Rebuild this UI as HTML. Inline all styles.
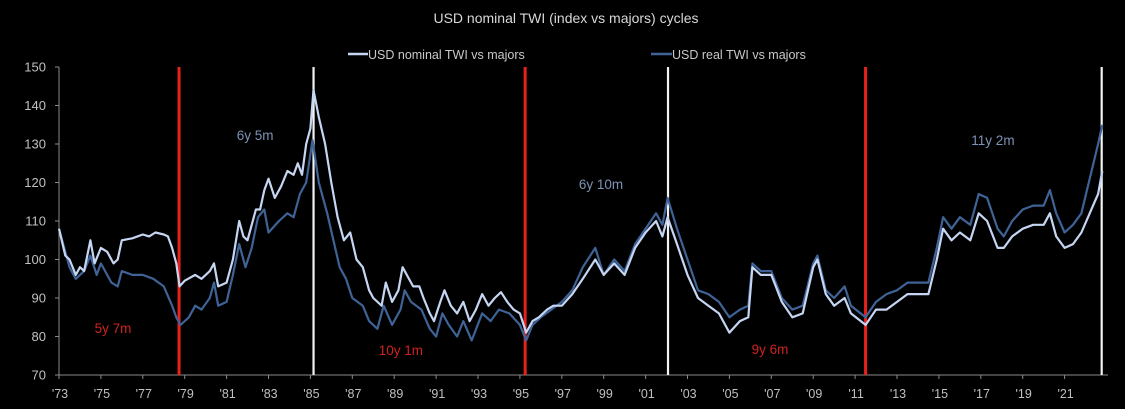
<!DOCTYPE html>
<html><head><meta charset="utf-8"><style>
html,body{margin:0;padding:0;background:#000;}
svg{display:block;font-family:"Liberation Sans",sans-serif;}
</style></head><body>
<svg id="chart" width="1125" height="409" viewBox="0 0 1125 409">
<rect width="1125" height="409" fill="#000"/>
<text x="566" y="23" text-anchor="middle" fill="#d8d8d8" font-size="14">USD nominal TWI (index vs majors) cycles</text>
<g>
<g><line x1="348" y1="54" x2="368" y2="54" stroke="#c6d6f2" stroke-width="2.5"/><text x="368" y="59" fill="#c8c8c8" font-size="12.5">USD nominal TWI vs majors</text></g>
<g><line x1="651" y1="54" x2="672" y2="54" stroke="#3f6396" stroke-width="2.5"/><text x="672" y="59" fill="#c8c8c8" font-size="12.5">USD real TWI vs majors</text></g>
</g>
<g id="axes"></g>
<g id="vlines"></g>
<g id="series"></g>
<g id="notes"></g>
</svg>
<script>
const yTicks=[70,80,90,100,110,120,130,140,150];
const xTickYears=[1973,1975,1977,1979,1981,1983,1985,1987,1989,1991,1993,1995,1997,1999,2001,2003,2005,2007,2009,2011,2013,2015,2017,2019,2021];
const nominalDates=[1973.0,1973.3,1973.5,1973.8,1974.0,1974.2,1974.5,1974.7,1975.0,1975.3,1975.6,1975.8,1976.0,1976.5,1977.0,1977.3,1977.6,1978.0,1978.2,1978.4,1978.6,1978.75,1979.0,1979.5,1979.8,1980.2,1980.4,1980.6,1981.0,1981.3,1981.6,1981.8,1982.0,1982.4,1982.6,1982.8,1983.0,1983.3,1983.6,1983.9,1984.2,1984.4,1984.6,1984.8,1985.0,1985.15,1985.4,1985.7,1986.0,1986.3,1986.6,1986.9,1987.2,1987.5,1987.8,1988.0,1988.4,1988.6,1988.9,1989.2,1989.4,1989.6,1989.9,1990.2,1990.4,1990.7,1990.9,1991.2,1991.4,1991.7,1992.0,1992.3,1992.6,1992.9,1993.2,1993.5,1993.8,1994.1,1994.4,1994.7,1995.0,1995.3,1995.6,1995.9,1996.3,1996.6,1997.0,1997.5,1998.0,1998.6,1999.0,1999.5,2000.0,2000.5,2001.0,2001.5,2001.8,2002.05,2002.5,2003.0,2003.5,2004.0,2004.5,2005.0,2005.5,2005.9,2006.1,2006.5,2007.0,2007.5,2008.0,2008.5,2009.0,2009.2,2009.6,2010.0,2010.5,2010.8,2011.5,2012.0,2012.5,2013.0,2013.5,2014.0,2014.5,2014.9,2015.2,2015.6,2016.0,2016.5,2016.9,2017.3,2017.8,2018.1,2018.5,2019.0,2019.5,2020.0,2020.3,2020.6,2021.0,2021.4,2021.8,2022.2,2022.6,2022.8];
const nominalValues=[108,101,100,96,98,97,105,99,103,102,99,100,105,105.5,106.5,106,107,106.5,106,103,99,93,94.5,96,95,97,99,93,94,100,110,106,105,113,113,118,121,116,119,123,122,125,122,130,134,144,137,130,120,111,105,107,100,98,92,90,88,94,89,92,98,96,93,93,90,86,84,89,92,88,86,89,84,87,91,88,90,91.5,89,87,86,81,84,85,87,88,88,91,95,100,96,99,96,103,107,110,106,111,104,96,90,88,86,81,84,85,98,96,96,89,85,86,98,100,91,88,90,86,83,87,87,89,91,91,91,100,108,105,107,105,112,110,103,103,106,108,109,109,112,106,103,104,107,112,117,123];
const realDates=[1973.0,1973.5,1973.8,1974.2,1974.5,1974.8,1975.0,1975.5,1975.8,1976.0,1976.5,1977.0,1977.5,1978.0,1978.4,1978.6,1978.8,1979.2,1979.5,1979.8,1980.2,1980.4,1980.6,1981.0,1981.3,1981.6,1981.9,1982.2,1982.5,1982.8,1983.0,1983.5,1983.9,1984.2,1984.5,1984.8,1985.1,1985.4,1985.8,1986.1,1986.4,1986.7,1987.0,1987.5,1987.8,1988.2,1988.5,1988.9,1989.3,1989.5,1989.8,1990.3,1990.7,1991.0,1991.3,1991.6,1992.0,1992.3,1992.7,1993.2,1993.6,1994.0,1994.5,1995.0,1995.3,1995.6,1996.0,1996.5,1997.0,1997.5,1998.0,1998.6,1999.0,1999.5,2000.0,2000.5,2001.0,2001.5,2001.8,2002.05,2002.5,2003.0,2003.5,2004.0,2004.5,2005.0,2005.5,2005.9,2006.1,2006.5,2007.0,2007.5,2008.0,2008.5,2009.0,2009.2,2009.6,2010.0,2010.5,2010.8,2011.5,2012.0,2012.5,2013.0,2013.5,2014.0,2014.5,2014.9,2015.2,2015.6,2016.0,2016.5,2016.9,2017.3,2017.8,2018.1,2018.5,2019.0,2019.5,2020.0,2020.3,2020.6,2021.0,2021.4,2021.8,2022.2,2022.6,2022.8];
const realValues=[108,98,95,97,101,96,99,94,93,97,96,96,95,93,88,85,83,85,88,87,90,94,88,89,96,104,98,103,111,113,107,110,112,111,117,120,131,120,112,105,98,95,90,88,84,82,88,83,87,92,89,87,82,80,86,83,80,84,79,86,84,87,86,83,79,83,85,87,89,92,98,103,96,100,97,104,108,112,109,116,108,100,92,91,89,85,87,88,99,97,97,90,87,88,99,101,92,90,93,88,85,89,91,92,94,94,94,103,111,108,111,109,117,116,108,106,110,113,114,114,118,112,107,109,112,121,130,135];
const cycleYears=[1978.73,1985.15,1995.25,2002.07,2011.5,2022.77];
const cycleKinds=["trough","peak","trough","peak","trough","peak"];
const noteLabels=["5y 7m","6y 5m","10y 1m","6y 10m","9y 6m","11y 2m"];
const noteYears=[1975.58,1982.36,1989.32,1998.87,2006.94,2017.58];
const noteValues=[80.9,131,75.2,118.3,75.5,129.7];

const NS="http://www.w3.org/2000/svg";
const X0=59,PX_PER_YEAR=20.95,Y_TOP=67,Y_BOT=375,VMIN=70,VMAX=150;
function xs(yr){return X0+(yr-1973)*PX_PER_YEAR;}
function ys(v){return Y_BOT-(v-VMIN)/(VMAX-VMIN)*(Y_BOT-Y_TOP);}
function mk(tag,attrs,parent){const e=document.createElementNS(NS,tag);for(const k in attrs)e.setAttribute(k,attrs[k]);parent.appendChild(e);return e;}

const axes=document.getElementById('axes');
const yAxis=mk('line',{x1:X0,y1:Y_TOP,x2:X0,y2:Y_BOT,stroke:'#8a8a8a','stroke-width':1},axes);


const xAxis=mk('line',{x1:X0,y1:Y_BOT,x2:1108,y2:Y_BOT,stroke:'#8a8a8a','stroke-width':1},axes);


yTicks.forEach(v=>{
  mk('line',{x1:X0-4,y1:ys(v),x2:X0,y2:ys(v),stroke:'#8a8a8a'},axes);
  const t=mk('text',{x:X0-13,y:ys(v)+4.5,'text-anchor':'end',fill:'#c0c0c0','font-size':13},axes);
  t.textContent=v;
  
  
});
xTickYears.forEach(yr=>{
  mk('line',{x1:xs(yr),y1:Y_BOT,x2:xs(yr),y2:Y_BOT+4,stroke:'#8a8a8a'},axes);
  const t=mk('text',{x:xs(yr)+1,y:Y_BOT+23,'text-anchor':'middle',fill:'#c0c0c0','font-size':12.5},axes);
  t.textContent="'"+String(yr).slice(2);
  
  
});

const vl=document.getElementById('vlines');
cycleYears.forEach((yr,i)=>{
  const l=mk('line',{x1:xs(yr),y1:Y_TOP,x2:xs(yr),y2:Y_BOT,stroke:cycleKinds[i]==='trough'?'#e8211c':'#f2f2f2','stroke-width':cycleKinds[i]==='trough'?3:2.2},vl);
  
  
});

const sg=document.getElementById('series');
function path(d,v){return d.map((yr,i)=>(i?'L':'M')+xs(yr).toFixed(1)+','+ys(v[i]).toFixed(1)).join('');}
const pr=mk('path',{d:path(realDates,realValues),fill:'none',stroke:'#3f6396','stroke-width':2.2,'stroke-linejoin':'round'},sg);


const pn=mk('path',{d:path(nominalDates,nominalValues),fill:'none',stroke:'#c6d6f2','stroke-width':2.2,'stroke-linejoin':'round'},sg);



const ng=document.getElementById('notes');
noteLabels.forEach((s,i)=>{
  const t=mk('text',{x:xs(noteYears[i]),y:ys(noteValues[i]),'text-anchor':'middle',fill:i%2===0?'#d0231e':'#7d93b5','font-size':13.5},ng);
  t.textContent=s;
  
  
});
</script>
</body></html>
